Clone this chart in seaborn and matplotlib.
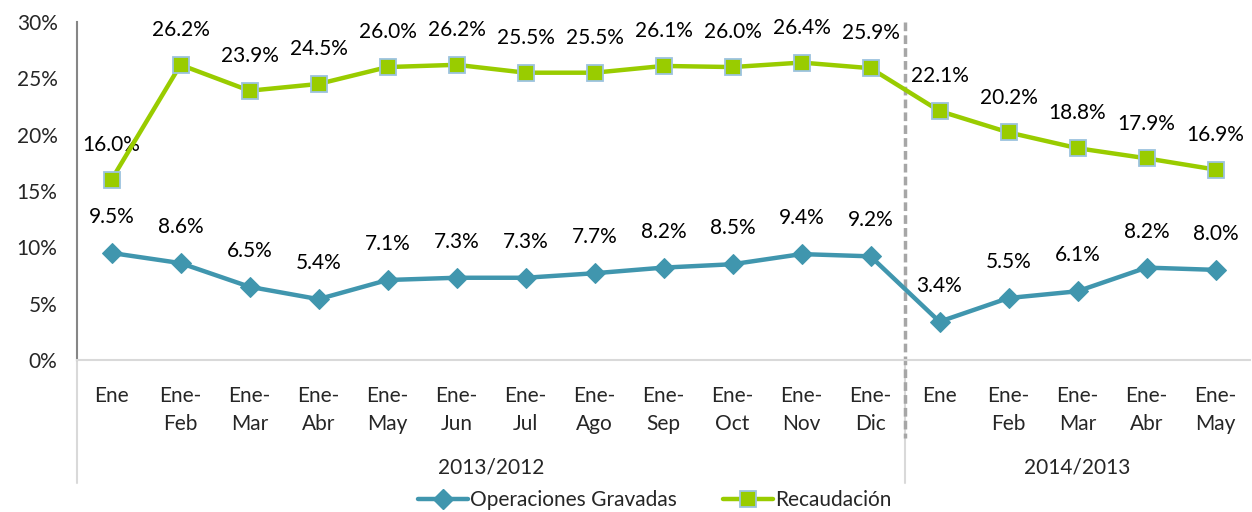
import matplotlib
matplotlib.use("Agg")
import matplotlib.pyplot as plt
import seaborn as sns
import pandas as pd
import numpy as np
from matplotlib.lines import Line2D

categories = ["Ene", "Ene-\nFeb", "Ene-\nMar", "Ene-\nAbr", "Ene-\nMay", "Ene-\nJun", "Ene-\nJul",
              "Ene-\nAgo", "Ene-\nSep", "Ene-\nOct", "Ene-\nNov", "Ene-\nDic",
              "Ene", "Ene-\nFeb", "Ene-\nMar", "Ene-\nAbr", "Ene-\nMay"]
groups = ["2013/2012", "2014/2013"]
group_sizes = [12, 5]
operaciones = [9.5, 8.6, 6.5, 5.4, 7.1, 7.3, 7.3, 7.7, 8.2, 8.5, 9.4, 9.2, 3.4, 5.5, 6.1, 8.2, 8.0]
recaudacion = [16.0, 26.2, 23.9, 24.5, 26.0, 26.2, 25.5, 25.5, 26.1, 26.0, 26.4, 25.9, 22.1, 20.2, 18.8, 17.9, 16.9]
yticks = [0, 5, 10, 15, 20, 25, 30]

sns.set_theme(style="white")
plt.rcParams['font.family'] = ['Lato', 'DejaVu Sans']

c_op = "#4096AE"
c_rec = "#99CC00"
c_rec_edge = "#9CC3DE"

fig = plt.figure(figsize=(12.52, 5.12), dpi=100)
ax = fig.add_axes([77/1252, 1-360/512, (1250-77)/1252, (360-22)/512])

x = np.arange(len(categories))
df_op = pd.DataFrame({"x": x, "y": operaciones})
df_rec = pd.DataFrame({"x": x, "y": recaudacion})

sns.lineplot(data=df_op, x="x", y="y", ax=ax, color=c_op, linewidth=3.2, marker="D",
             markersize=10, markeredgecolor=c_op, markerfacecolor=c_op, zorder=3)
sns.lineplot(data=df_rec, x="x", y="y", ax=ax, color=c_rec, linewidth=3.2, marker="s",
             markersize=12, markeredgecolor=c_rec_edge, markeredgewidth=1.3,
             markerfacecolor=c_rec, zorder=4)

fs = 15
for xi, v in zip(x, operaciones):
    ax.annotate(f"{v:.1f}%", (xi, v), xytext=(0, 26), textcoords="offset points",
                ha="center", va="center", fontsize=fs, color="black")
for xi, v in zip(x, recaudacion):
    ax.annotate(f"{v:.1f}%", (xi, v), xytext=(0, 25), textcoords="offset points",
                ha="center", va="center", fontsize=fs, color="black")

ax.set_xlim(-0.5, len(categories) - 0.5)
ax.set_ylim(0, 30)
ax.set_yticks(yticks)
ax.set_yticklabels([f"{t}%" for t in yticks], fontsize=fs)
ax.set_xticks(x)
ax.set_xticklabels(categories, fontsize=fs, linespacing=1.45, va="top")
ax.tick_params(axis="x", length=0, pad=19)
ax.tick_params(axis="y", length=0, pad=14)
ax.set_xlabel("")
ax.set_ylabel("")

for s in ["top", "right"]:
    ax.spines[s].set_visible(False)
ax.spines["left"].set_color("#868686")
ax.spines["left"].set_linewidth(1.5)
ax.spines["bottom"].set_color("#D9D9D9")
ax.spines["bottom"].set_linewidth(1.5)

# category group separators and labels
low = -(483 - 360) / 338 * 30
start = -0.5
boundaries = [start]
for g, n in zip(groups, group_sizes):
    end = start + n
    ax.text((start + end) / 2, -(467 - 360) / 338 * 30, g, ha="center", va="center",
            fontsize=fs, clip_on=False)
    boundaries.append(end)
    start = end
for b in boundaries[:-1]:
    ax.plot([b, b], [0, low], color="#D9D9D9", linewidth=1.5, clip_on=False, zorder=1)
sep = boundaries[1]
ax.plot([sep, sep], [30, -(438 - 360) / 338 * 30], color="#A6A6A6", linewidth=2.5,
        linestyle=(0, (2.5, 1.2)), clip_on=False, zorder=2)

handles = [
    Line2D([], [], color=c_op, linewidth=3.2, marker="D", markersize=10,
           markeredgecolor=c_op, markerfacecolor=c_op),
    Line2D([], [], color=c_rec, linewidth=3.2, marker="s", markersize=12,
           markeredgecolor=c_rec_edge, markeredgewidth=1.3, markerfacecolor=c_rec),
]
fig.legend(handles, ["Operaciones Gravadas", "Recaudación"], loc="center",
           bbox_to_anchor=(655/1252, 1 - 500/512), ncol=2, frameon=False, fontsize=fs,
           handlelength=2.4, handletextpad=0.1, columnspacing=2.2, borderaxespad=0)

fig.savefig("out.png", dpi=100)
